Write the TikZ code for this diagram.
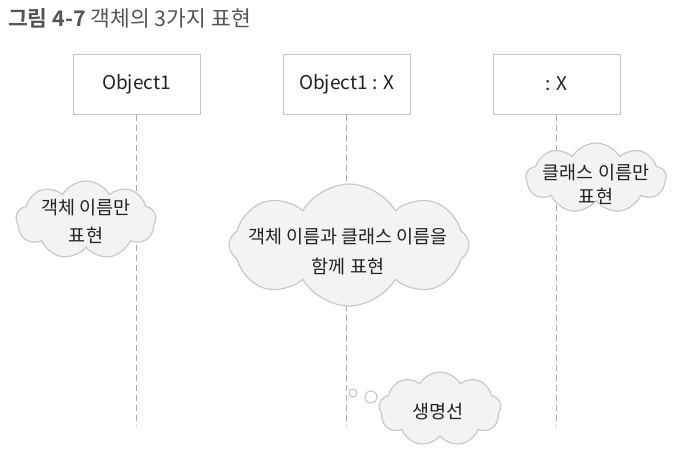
\documentclass[tikz,border=0pt]{standalone}
\usepackage{fontspec}
\setmainfont{Noto Sans CJK KR}[BoldFont={Noto Sans CJK KR Bold}]
\usetikzlibrary{shapes.symbols}
\definecolor{framegray}{HTML}{C4C4C4}
\definecolor{linegray}{HTML}{ABABAB}
\definecolor{cloudedge}{HTML}{C9C9C9}
\definecolor{cloudfill}{HTML}{F3F3F3}
\definecolor{textdark}{HTML}{222222}
\definecolor{titlegray}{HTML}{555555}
\begin{document}
\begin{tikzpicture}[x=1pt,y=-1pt,
	objbox/.style={draw=framegray,line width=1pt,minimum width=127pt,minimum height=60pt,inner sep=0pt,font=\fontsize{19}{23}\selectfont,text=textdark},
	lifeline/.style={draw=linegray,line width=1.2pt,dash pattern=on 6pt off 4pt},
	note/.style={cloud,cloud puffs=9,cloud puff arc=120,cloud ignores aspect,draw=cloudedge,fill=cloudfill,line width=1.2pt,inner sep=0pt},
	notetext/.style={align=center,inner sep=0pt,font=\fontsize{18.5}{28}\selectfont,text=textdark},
	bubble/.style={circle,draw=cloudedge,fill=white,line width=1.2pt,inner sep=0pt}]
	\useasboundingbox (0,0) rectangle (677,459);
	\node[anchor=base west,text=titlegray,font=\fontsize{21.5}{26}\selectfont,inner sep=0pt] (title) at (8,26) {\textbf{그림 4-7} 객체의 3가지 표현};
	\node[objbox] (obj1) at (136.5,84) {Object1};
	\node[objbox] (obj2) at (346.5,84) {Object1 : X};
	\node[objbox] (obj3) at (556.5,84) {: X};
	\coordinate (end1) at (136.5,425);
	\coordinate (end2) at (346.5,425);
	\coordinate (end3) at (556.5,425);
	\draw[lifeline] (obj1.south) -- (end1);
	\draw[lifeline] (obj2.south) -- (end2);
	\draw[lifeline] (obj3.south) -- (end3);
	\node[note,minimum width=140pt,minimum height=78pt] (onlyobj) at (86,220) {};
	\node[notetext] (onlyobjtext) at (86,221) {객체 이름만\\표현};
	\node[note,cloud puffs=8,minimum width=240pt,minimum height=122pt] (both) at (349,245) {};
	\node[notetext,font=\fontsize{18.5}{30}\selectfont] (bothtext) at (348,252) {객체 이름과 클래스 이름을\\함께 표현};
	\node[note,minimum width=140pt,minimum height=70pt] (onlyclass) at (596,178) {};
	\node[notetext,font=\fontsize{18.5}{24}\selectfont] (onlyclasstext) at (596,184) {클래스 이름만\\표현};
	\node[bubble,minimum size=8pt] (dot1) at (353,393) {};
	\node[bubble,minimum size=12pt] (dot2) at (371,397) {};
	\node[note,minimum width=122pt,minimum height=74pt] (life) at (440,409) {};
	\node[notetext] (lifetext) at (438,412) {생명선};
\end{tikzpicture}
\end{document}
